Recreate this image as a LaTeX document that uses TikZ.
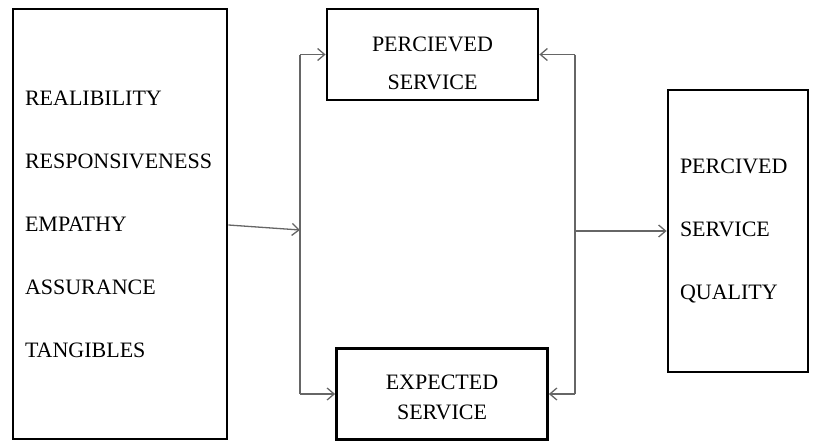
\documentclass[tikz,border=0pt]{standalone}
\usepackage{fontspec}
\setmainfont{Liberation Serif}
\usetikzlibrary{arrows.meta}

\begin{document}
\begin{tikzpicture}[x=1pt, y=-1pt,
	box/.style={draw, line width=2.8pt, rectangle, inner sep=0pt},
	listbox/.style={box, align=left, inner xsep=12pt, font=\fontsize{22}{63}\selectfont},
	midbox/.style={box, minimum width=211pt, minimum height=91pt},
	midtext/.style={align=center, inner sep=0pt},
	link/.style={draw=black!60, line width=1.3pt, -{Straight Barb[length=7pt, width=12pt]}}]
	\useasboundingbox (0,0) rectangle (814,442);

	\node [listbox, text width=190pt, minimum height=430pt] (dims) at (120,224) {REALIBILITY\\RESPONSIVENESS\\EMPATHY\\ASSURANCE\\TANGIBLES};
	\node [midbox] (perc) at (432.5,54.5) {};
	\node [midtext, font=\fontsize{22}{38}\selectfont] (perctext) at (432.5,63) {PERCIEVED\\SERVICE};
	\node [midbox] (expc) at (442,394) {};
	\node [midtext, font=\fontsize{22}{30}\selectfont] (expctext) at (442,397) {EXPECTED\\SERVICE};
	\node [listbox, text width=116pt, minimum height=282pt] (qual) at (738,231) {PERCIVED\\SERVICE\\QUALITY};

	\coordinate (jl) at (300,230);
	\coordinate (jr) at (575,231);

	\draw [link] ([yshift=-1pt]dims.east) to (jl);
	\draw [link, -] (perc.west -| jl) to (expc.west -| jl);
	\draw [link] (jl |- perc.west) to (perc.west);
	\draw [link] (jl |- expc.west) to (expc.west);

	\draw [link, -] (perc.east -| jr) to (expc.east -| jr);
	\draw [link] (jr |- perc.east) to (perc.east);
	\draw [link] (jr |- expc.east) to (expc.east);
	\draw [link] (jr) to (qual.west);
\end{tikzpicture}
\end{document}
